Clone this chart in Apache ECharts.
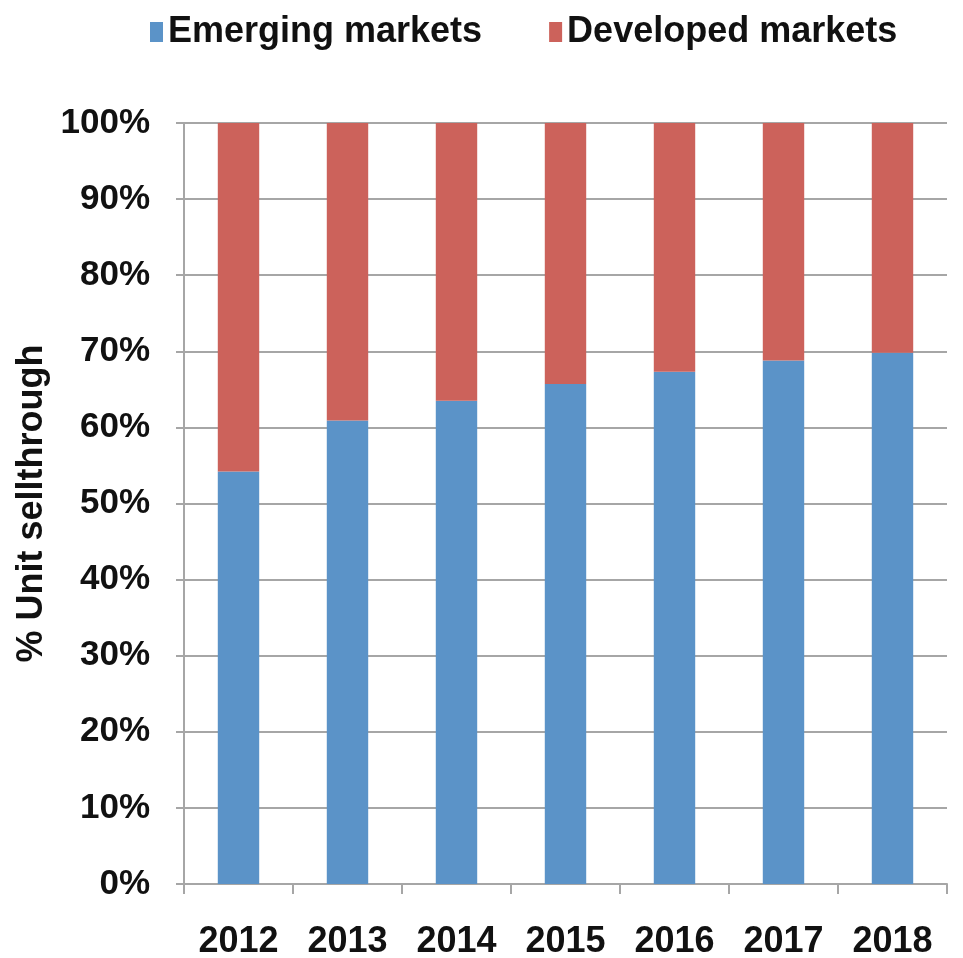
<!DOCTYPE html>
<html>
<head>
<meta charset="utf-8">
<script src="https://cdn.jsdelivr.net/npm/echarts@6/dist/echarts.min.js"></script>
<style>
html,body{margin:0;padding:0;background:#fff;}
#c{width:963px;height:958px;}
</style>
</head>
<body>
<div id="c"></div>
<script>
const categories = ['2012','2013','2014','2015','2016','2017','2018'];
const emerging = [54.2, 60.9, 63.5, 65.7, 67.3, 68.8, 69.8];
const developed = [45.8, 39.1, 36.5, 34.3, 32.7, 31.2, 30.2];
const seriesNames = ['Emerging markets', 'Developed markets'];
const yTicks = [0,10,20,30,40,50,60,70,80,90,100];

const FONT = '"Liberation Sans", Arial, sans-serif';
const chart = echarts.init(document.getElementById('c'), null, {renderer:'canvas'});
chart.setOption({
  animation: false,
  backgroundColor: '#ffffff',
  textStyle: {fontFamily: FONT},
  legend: {
    left: 150, top: 14, padding: 0,
    itemWidth: 13, itemHeight: 20, itemGap: 67,
    icon: 'rect',
    textStyle: {fontFamily: FONT, fontWeight: 'bold', fontSize: 36, color: '#111', padding:[0,0,0,0]},
    data: seriesNames
  },
  grid: {left: 184, right: 16, top: 123, bottom: 74, containLabel: false, outerBoundsMode: 'none'},
  xAxis: {
    type: 'category',
    data: categories,
    axisLine: {lineStyle: {color: '#a6a6a6', width: 2}},
    axisTick: {show: true, length: 10, lineStyle: {color: '#a6a6a6', width: 2}},
    axisLabel: {margin: 40, fontFamily: FONT, fontWeight: 'bold', fontSize: 36, color: '#111'}
  },
  yAxis: {
    type: 'value', min: 0, max: 100, interval: 10,
    name: '% Unit sellthrough', nameLocation: 'middle', nameRotate: 90, nameGap: 128,
    nameTextStyle: {fontFamily: FONT, fontWeight: 'bold', fontSize: 36, color: '#111'},
    axisLine: {show: true, lineStyle: {color: '#a6a6a6', width: 2}},
    axisTick: {show: true, length: 8, inside: false, lineStyle: {color: '#a6a6a6', width: 2}},
    splitLine: {lineStyle: {color: '#a6a6a6', width: 2}},
    axisLabel: {margin: 34, fontFamily: FONT, fontWeight: 'bold', fontSize: 35, color: '#111',
      formatter: v => yTicks.includes(v) ? v + '%' : ''}
  },
  series: [
    {name: seriesNames[0], type: 'bar', stack: 'total', data: emerging, barWidth: '38%',
     itemStyle: {color: '#5b93c8'}},
    {name: seriesNames[1], type: 'bar', stack: 'total', data: developed, barWidth: '38%',
     itemStyle: {color: '#cc625b'}}
  ]
});
</script>
</body>
</html>
